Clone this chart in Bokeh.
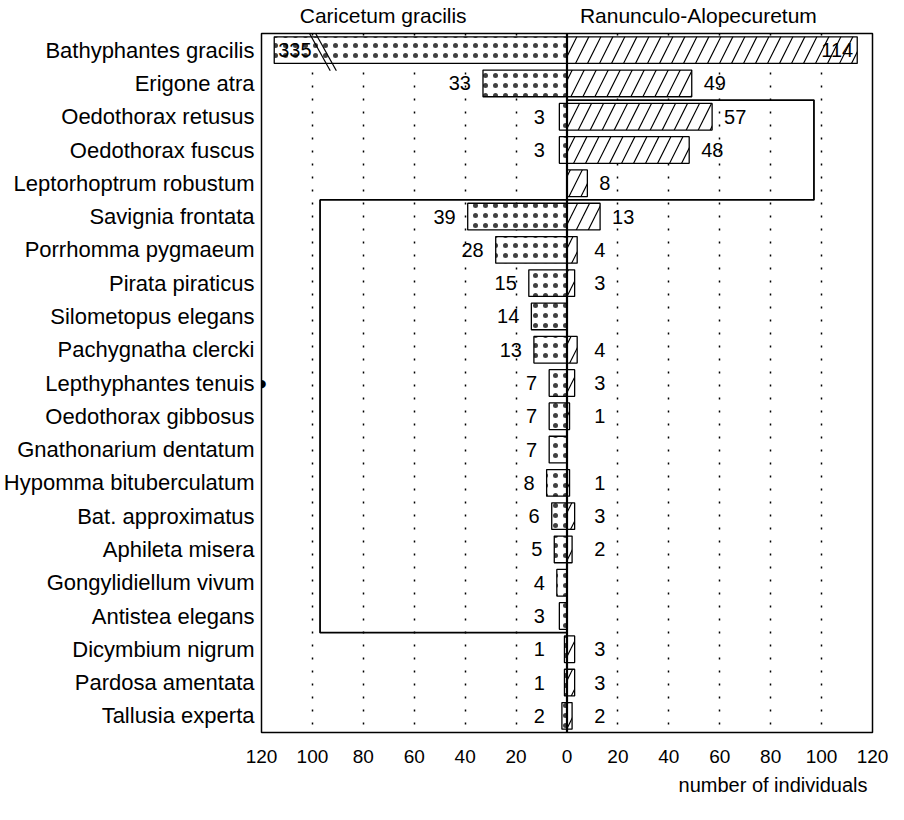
from bokeh.plotting import figure
from bokeh.models import Range1d, FixedTicker, ColumnDataSource, Label, Title, LabelSet, Span, LinearAxis
from bokeh.core.properties import value
from bokeh.embed import file_html
from bokeh.resources import INLINE

# ---------------- data ----------------
species = ["Bathyphantes gracilis", "Erigone atra", "Oedothorax retusus", "Oedothorax fuscus",
           "Leptorhoptrum robustum", "Savignia frontata", "Porrhomma pygmaeum", "Pirata piraticus",
           "Silometopus elegans", "Pachygnatha clercki", "Lepthyphantes tenuis", "Oedothorax gibbosus",
           "Gnathonarium dentatum", "Hypomma bituberculatum", "Bat. approximatus", "Aphileta misera",
           "Gongylidiellum vivum", "Antistea elegans", "Dicymbium nigrum", "Pardosa amentata",
           "Tallusia experta"]
caricetum = [335, 33, 3, 3, 0, 39, 28, 15, 14, 13, 7, 7, 7, 8, 6, 5, 4, 3, 1, 1, 2]
ranunculo = [114, 49, 57, 48, 8, 13, 4, 3, 0, 4, 3, 1, 0, 1, 3, 2, 0, 0, 3, 3, 2]
x_ticks = [-120, -100, -80, -60, -40, -20, 0, 20, 40, 60, 80, 100, 120]
x_tick_labels = ["120", "100", "80", "60", "40", "20", "0", "20", "40", "60", "80", "100", "120"]
group_names = ["Caricetum gracilis", "Ranunculo-Alopecuretum"]
group_name_pos = [-72.2, 51.6]
x_label = "number of individuals"
axis_max = 120
break_len = 115          # drawn length of a bar that exceeds the axis
# outlined species groups
groups_first = [2, 5]
groups_last = [4, 17]
groups_extent = [97, -97]
marked_row = 10          # row marked with a dot on the axis

FONT = "Liberation Sans"
n = len(species)
rows = list(range(n))

p = figure(width=888, height=804, output_backend="svg", toolbar_location=None,
           x_range=Range1d(-axis_max, axis_max), y_range=Range1d(n - 0.5, -0.5),
           min_border_left=254, min_border_right=16, min_border_top=32, min_border_bottom=72)
p.background_fill_color = "white"
p.border_fill_color = "white"
p.outline_line_color = "black"
p.outline_line_width = 1.5

# axes
p.xaxis.ticker = FixedTicker(ticks=x_ticks)
p.xaxis.major_label_overrides = {t: l for t, l in zip(x_ticks, x_tick_labels)}
p.xaxis.axis_line_color = None
p.xaxis.major_tick_line_color = None
p.xaxis.minor_tick_line_color = None
p.xaxis.major_tick_out = 0
p.xaxis.major_tick_in = 0
p.xaxis.major_label_standoff = 17
p.xaxis.major_label_text_font = FONT
p.xaxis.major_label_text_font_size = "19px"
p.xaxis.major_label_text_color = "black"

p.yaxis.ticker = FixedTicker(ticks=rows)
p.yaxis.major_label_overrides = {i: s for i, s in enumerate(species)}
p.yaxis.axis_line_color = None
p.yaxis.major_tick_line_color = None
p.yaxis.minor_tick_line_color = None
p.yaxis.major_tick_out = 0
p.yaxis.major_tick_in = 0
p.yaxis.major_label_standoff = 7
p.yaxis.major_label_text_font = FONT
p.yaxis.major_label_text_font_size = "22px"
p.yaxis.major_label_text_color = "black"

# group headers as an axis above the plot
top_axis = LinearAxis(ticker=FixedTicker(ticks=group_name_pos),
                      major_label_overrides={v: s for v, s in zip(group_name_pos, group_names)},
                      axis_line_color=None, major_tick_line_color=None, minor_tick_line_color=None,
                      major_tick_out=0, major_tick_in=0, major_label_standoff=7,
                      major_label_text_font=FONT, major_label_text_font_size="21px",
                      major_label_text_color="black")
p.add_layout(top_axis, "above")

# grid: dotted verticals
p.ygrid.visible = False
p.xgrid.ticker = FixedTicker(ticks=[t for t in x_ticks if t not in (0, -axis_max, axis_max)])
p.xgrid.grid_line_color = "black"
p.xgrid.grid_line_dash = "2 11"
p.xgrid.grid_line_width = 1.5

# bars
left_len = [min(v, break_len) for v in caricetum]
lsrc = ColumnDataSource(dict(y=[r for r, v in zip(rows, caricetum) if v > 0],
                             left=[-l for l, v in zip(left_len, caricetum) if v > 0]))
p.hbar(y="y", left="left", right=0, height=0.8, source=lsrc, fill_color="white",
       line_color="black", line_width=1.3, hatch_pattern="dot", hatch_scale=10,
       hatch_color="black", hatch_weight=0.8, hatch_alpha=0.75)

right_len = [min(v, break_len) for v in ranunculo]
rsrc = ColumnDataSource(dict(y=[r for r, v in zip(rows, ranunculo) if v > 0],
                             right=[l for l, v in zip(right_len, ranunculo) if v > 0]))
p.hbar(y="y", left=0, right="right", height=0.8, source=rsrc, fill_color="white",
       line_color="black", line_width=1.3, hatch_pattern="right_diagonal_line", hatch_scale=24,
       hatch_color="black", hatch_weight=1.2)

# group outlines
p.quad(left=[min(0, e) for e in groups_extent], right=[max(0, e) for e in groups_extent],
       top=[f - 0.5 for f in groups_first], bottom=[l + 0.5 for l in groups_last],
       fill_color=None, line_color="black", line_width=1.8)

# zero line
p.add_layout(Span(location=0, dimension="height", line_color="black", line_width=2.2))

# axis break marks on the truncated bar
for r, v in zip(rows, caricetum):
    if v > axis_max:
        bx = -break_len + 13
        p.segment(x0=[bx, bx + 2.4], y0=[r - 0.62, r - 0.62], x1=[bx + 9, bx + 11.4],
                  y1=[r + 0.62, r + 0.62], line_color="black", line_width=1.2)

# value labels
ok_l = [0 < v <= axis_max for v in caricetum]
lab_l = ColumnDataSource(dict(
    x=[-max(v, 4) for v, k in zip(caricetum, ok_l) if k],
    y=[r for r, k in zip(rows, ok_l) if k],
    t=[str(v) for v, k in zip(caricetum, ok_l) if k]))
p.add_layout(LabelSet(x="x", y="y", text="t", source=lab_l, x_offset=-12, text_align="right",
                      text_baseline="middle", text_font=value(FONT), text_font_size="20px",
                      text_color="black"))
ok_r = [0 < v < break_len - 10 for v in ranunculo]
lab_r = ColumnDataSource(dict(
    x=[max(v, 6) for v, k in zip(ranunculo, ok_r) if k],
    y=[r for r, k in zip(rows, ok_r) if k],
    t=[str(v) for v, k in zip(ranunculo, ok_r) if k]))
p.add_layout(LabelSet(x="x", y="y", text="t", source=lab_r, x_offset=12, text_align="left",
                      text_baseline="middle", text_font=value(FONT), text_font_size="20px",
                      text_color="black"))
# labels inside the long bars
for r, v in zip(rows, caricetum):
    if v > axis_max:
        p.add_layout(Label(x=-min(v, break_len), y=r, text=str(v), x_offset=4, text_align="left",
                           text_baseline="middle", text_font=FONT, text_font_size="20px",
                           text_color="black"))
for r, v in zip(rows, ranunculo):
    if v >= break_len - 10:
        p.add_layout(Label(x=min(v, break_len), y=r, text=str(v), x_offset=-4, text_align="right",
                           text_baseline="middle", text_font=FONT, text_font_size="20px",
                           text_color="black"))

# marker on the axis
p.add_layout(Label(x=-axis_max, y=marked_row, text="\u25CF", text_align="center",
                   text_baseline="middle", text_font="DejaVu Sans", text_font_size="11px",
                   text_color="black"))

# x label
p.add_layout(Title(text=x_label, align="right", offset=5, text_font=FONT, text_font_size="20px",
                   text_font_style="normal", text_color="black", standoff=12), "below")

open("out.html", "w").write(file_html(p, INLINE))
